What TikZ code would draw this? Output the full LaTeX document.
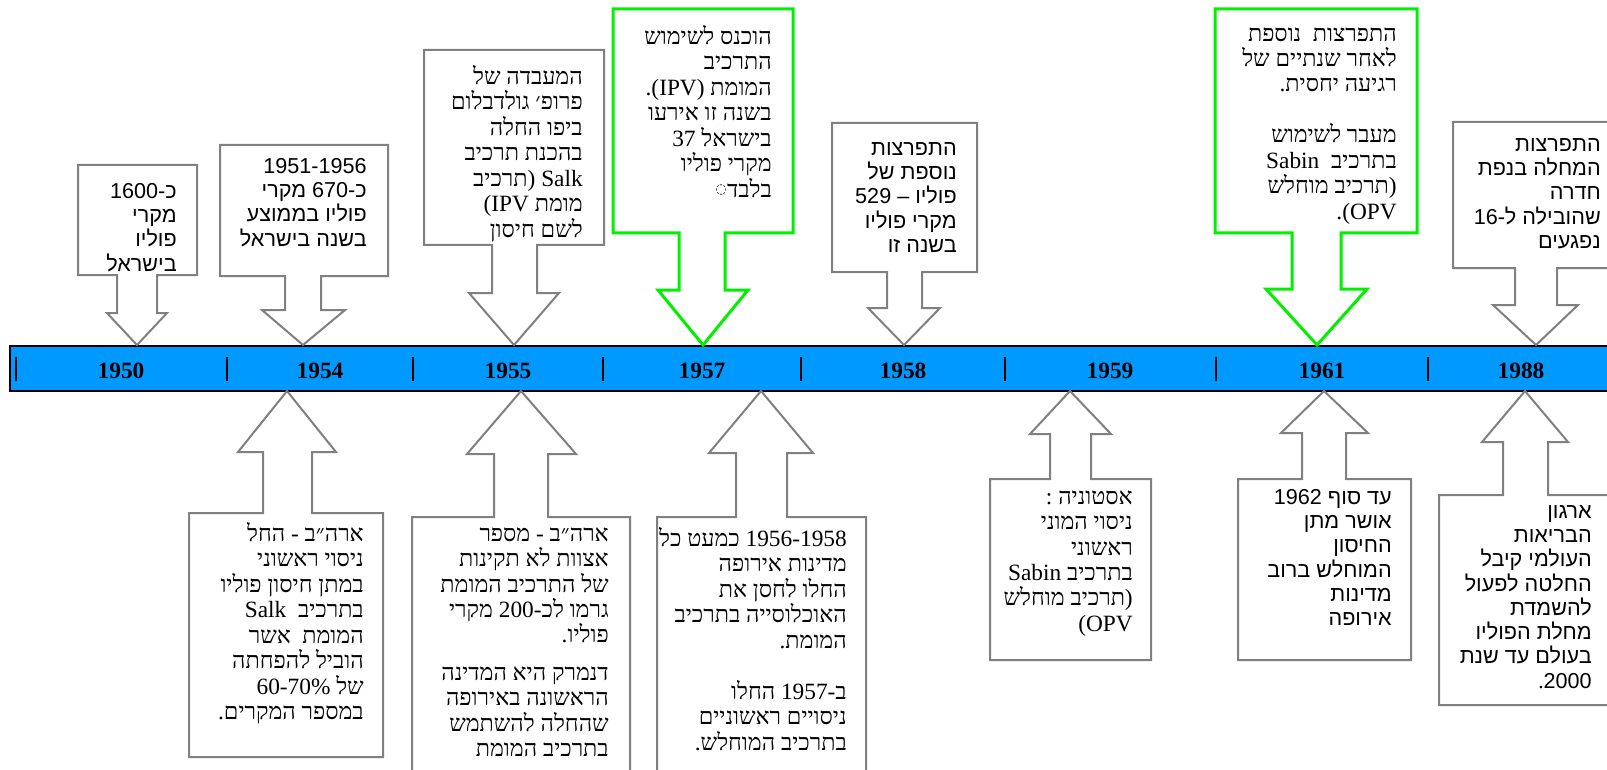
\documentclass[tikz,border=0pt]{standalone}
\usepackage{fontspec}
\setmainfont{Liberation Serif}
\newfontfamily\hebsans[Script=Hebrew]{Liberation Sans}
\newfontfamily\hebserif[Script=Hebrew]{Liberation Serif}
\newfontfamily\markfont{DejaVu Sans}
\TeXXeTstate=1
\definecolor{timeblue}{RGB}{0,153,255}
\definecolor{calloutgray}{RGB}{128,128,128}
\definecolor{calloutgreen}{RGB}{0,240,0}
\newcommand{\rl}[1]{\beginR #1\endR}
% parentheses and stops as they stand on the page
\newcommand{\lp}{\hbox{\rmfamily(}}
\newcommand{\rp}{\hbox{\rmfamily)}}
\newcommand{\stp}{\hbox{\rmfamily.}}
\tikzset{
  graycallout/.style={draw=calloutgray, line width=1.5pt, fill=white},
  greencallout/.style={draw=calloutgreen, line width=2.25pt, fill=white},
  sanstext/.style={anchor=north east, inner sep=0pt, align=right, font=\hebsans\fontsize{16.2}{18.2}\selectfont},
  seriftext/.style={anchor=north east, inner sep=0pt, align=right, font=\hebserif\fontsize{17.5}{19.1}\selectfont},
  yearlabel/.style={inner sep=0pt, font=\bfseries\fontsize{17.5}{18}\selectfont},
  yeartick/.style={line width=1pt}
}

\begin{document}
\begin{tikzpicture}[x=0.75pt,y=0.75pt,yscale=-1,xscale=1]
\useasboundingbox (0,0) rectangle (1607,770);
\clip (0,0) rectangle (1607,770);

% Timeline Bar
\draw [fill=timeblue, line width=1.5pt] (10,346) rectangle (1630,391);
\foreach \x in {16,227,413,603,801,1005,1216,1428}
  \draw [yeartick] (\x,357) -- (\x,381);
% Text Node
\node [yearlabel] (y1950) at (121,370.5) {1950};
\node [yearlabel] (y1954) at (320,370.5) {1954};
\node [yearlabel] (y1955) at (508,370.5) {1955};
\node [yearlabel] (y1957) at (702,370.5) {1957};
\node [yearlabel] (y1958) at (903,370.5) {1958};
\node [yearlabel] (y1959) at (1110,370.5) {1959};
\node [yearlabel] (y1961) at (1322,370.5) {1961};
\node [yearlabel] (y1988) at (1521,370.5) {1988};

% Shape: Down Arrow Callout
\draw [graycallout] (78,165) -- (197,165) -- (197,275) -- (157,275) -- (157,313) -- (167,313) -- (137,345) -- (107,313) -- (117,313) -- (117,275) -- (78,275) -- cycle ;
% Text Node
\node [sanstext] (ev1950a) at (177,183) {\rl{כ-1600}\\ \rl{מקרי}\\ \rl{פוליו}\\ \rl{בישראל}};

% Shape: Down Arrow Callout
\draw [graycallout] (220,145) -- (388,145) -- (388,276) -- (321,276) -- (321,310) -- (345,310) -- (303,345) -- (262,310) -- (285,310) -- (285,276) -- (220,276) -- cycle ;
% Text Node
\node [sanstext] (ev1954a) at (367,158) {\rl{1951-1956}\\ \rl{כ-670 מקרי}\\ \rl{פוליו בממוצע}\\ \rl{בשנה בישראל}};

% Shape: Down Arrow Callout
\draw [graycallout] (424,50) -- (604,50) -- (604,245) -- (537,245) -- (537,293) -- (559,293) -- (514,345) -- (469,293) -- (492,293) -- (492,245) -- (424,245) -- cycle ;
% Text Node
\node [seriftext] (ev1955a) at (583,65) {\rl{המעבדה של}\\ \rl{פרופ׳ גולדבלום}\\ \rl{ביפו החלה}\\ \rl{בהכנת תרכיב}\\ \rl{Salk \rp תרכיב}\\ \rl{מומת IPV\lp}\\ \rl{לשם חיסון}};

% Shape: Down Arrow Callout
\draw [greencallout] (613,9) -- (793,9) -- (793,233) -- (725,233) -- (725,290) -- (748,290) -- (703,345) -- (658,290) -- (679,290) -- (679,233) -- (613,233) -- cycle ;
% Text Node
\node [seriftext] (ev1957a) at (772,25) {\rl{הוכנס לשימוש}\\ \rl{התרכיב}\\ \rl{המומת \rp IPV\lp\stp}\\ \rl{בשנה זו אירעו}\\ \rl{בישראל 37}\\ \rl{מקרי פוליו}\\ \rl{בלבד\raisebox{3pt}{\markfont\fontsize{10}{10}\selectfont ◌}}};

% Shape: Down Arrow Callout
\draw [graycallout] (832,123) -- (977,123) -- (977,272) -- (922,272) -- (922,308) -- (940,308) -- (904,345) -- (868,308) -- (887,308) -- (887,272) -- (832,272) -- cycle ;
% Text Node
\node [sanstext] (ev1958a) at (957,142) {\rl{התפרצות}\\ \rl{נוספת של}\\ \rl{פוליו – 529}\\ \rl{מקרי פוליו}\\ \rl{בשנה זו}};

% Shape: Down Arrow Callout
\draw [greencallout] (1215,9) -- (1417,9) -- (1417,233) -- (1341,233) -- (1341,289) -- (1367,289) -- (1317,345) -- (1266,289) -- (1292,289) -- (1292,233) -- (1215,233) -- cycle ;
% Text Node
\node [seriftext] (ev1961a) at (1397,27) {\rl{התפרצות \ נוספת}\\ \rl{לאחר שנתיים של}\\ \rl{רגיעה יחסית.}\\[19pt] \rl{מעבר לשימוש}\\ \rl{בתרכיב \ Sabin}\\ \rl{\rp תרכיב מוחלש}\\ \rl{OPV\lp\stp}};

% Shape: Down Arrow Callout
\draw [graycallout] (1453,122) -- (1619,122) -- (1619,268) -- (1557,268) -- (1557,305) -- (1578,305) -- (1536,345) -- (1493,305) -- (1515,305) -- (1515,268) -- (1453,268) -- cycle ;
% Text Node
\node [sanstext] (ev1988a) at (1601,138) {\rl{התפרצות}\\ \rl{המחלה בנפת}\\ \rl{חדרה}\\ \rl{שהובילה ל-16}\\ \rl{נפגעים}};

% Shape: Up Arrow Callout
\draw [graycallout] (189,757) -- (383,757) -- (383,513) -- (312,513) -- (312,452) -- (336,452) -- (287,391) -- (238,452) -- (263,452) -- (263,513) -- (189,513) -- cycle ;
% Text Node
\node [seriftext] (ev1954b) at (364,522) {\rl{ארה״ב - החל}\\ \rl{ניסוי ראשוני}\\ \rl{במתן חיסון פוליו}\\ \rl{בתרכיב \ Salk}\\ \rl{המומת \ אשר}\\ \rl{הוביל להפחתה}\\ \rl{של 60-70\%}\\ \rl{במספר המקרים.}};

% Shape: Up Arrow Callout
\draw [graycallout] (412,800) -- (630,800) -- (630,517) -- (548,517) -- (548,454) -- (576,454) -- (521,391) -- (467,454) -- (494,454) -- (494,517) -- (412,517) -- cycle ;
% Text Node
\node [seriftext] (ev1955b) at (609,527) {\rl{ארה״ב - מספר}\\ \rl{אצוות לא תקינות}\\ \rl{של התרכיב המומת}\\ \rl{גרמו לכ-200 מקרי}\\ \rl{פוליו.}\\[9pt] \rl{דנמרק היא המדינה}\\ \rl{הראשונה באירופה}\\ \rl{שהחלה להשתמש}\\ \rl{בתרכיב המומת}};

% Shape: Up Arrow Callout
\draw [graycallout] (657,800) -- (866,800) -- (866,517) -- (787,517) -- (787,453) -- (813,453) -- (761,391) -- (709,453) -- (736,453) -- (736,517) -- (657,517) -- cycle ;
% Text Node
\node [seriftext] (ev1957b) at (847,527) {\rl{1956-1958 כמעט כל}\\ \rl{מדינות אירופה}\\ \rl{החלו לחסן את}\\ \rl{האוכלוסייה בתרכיב}\\ \rl{המומת.}\\[19pt] \rl{ב-1957 החלו}\\ \rl{ניסויים ראשוניים}\\ \rl{בתרכיב המוחלש.}};

% Shape: Up Arrow Callout
\draw [graycallout] (990,660) -- (1151,660) -- (1151,479) -- (1091,479) -- (1091,434) -- (1111,434) -- (1070,391) -- (1030,434) -- (1050,434) -- (1050,479) -- (990,479) -- cycle ;
% Text Node
\node [seriftext] (ev1959b) at (1133,490) {\rl{אסטוניה :}\\ \rl{ניסוי המוני}\\ \rl{ראשוני}\\ \rl{בתרכיב Sabin}\\ \rl{\rp תרכיב מוחלש}\\ \rl{OPV\lp}};

% Shape: Up Arrow Callout
\draw [graycallout] (1238,660) -- (1411,660) -- (1411,479) -- (1346,479) -- (1346,433) -- (1368,433) -- (1324,391) -- (1281,433) -- (1302,433) -- (1302,479) -- (1238,479) -- cycle ;
% Text Node
\node [sanstext] (ev1961b) at (1392,489) {\rl{עד סוף 1962}\\ \rl{אושר מתן}\\ \rl{החיסון}\\ \rl{המוחלש ברוב}\\ \rl{מדינות}\\ \rl{אירופה}};

% Shape: Up Arrow Callout
\draw [graycallout] (1439,705) -- (1611,705) -- (1611,495) -- (1548,495) -- (1548,442) -- (1568,442) -- (1525,391) -- (1482,442) -- (1503,442) -- (1503,495) -- (1439,495) -- cycle ;
% Text Node
\node [sanstext] (ev1988b) at (1592,505) {\rl{ארגון}\\ \rl{הבריאות}\\ \rl{העולמי קיבל}\\ \rl{החלטה לפעול}\\ \rl{להשמדת}\\ \rl{מחלת הפוליו}\\ \rl{בעולם עד שנת}\\ \rl{2000\stp}};

\end{tikzpicture}
\end{document}
